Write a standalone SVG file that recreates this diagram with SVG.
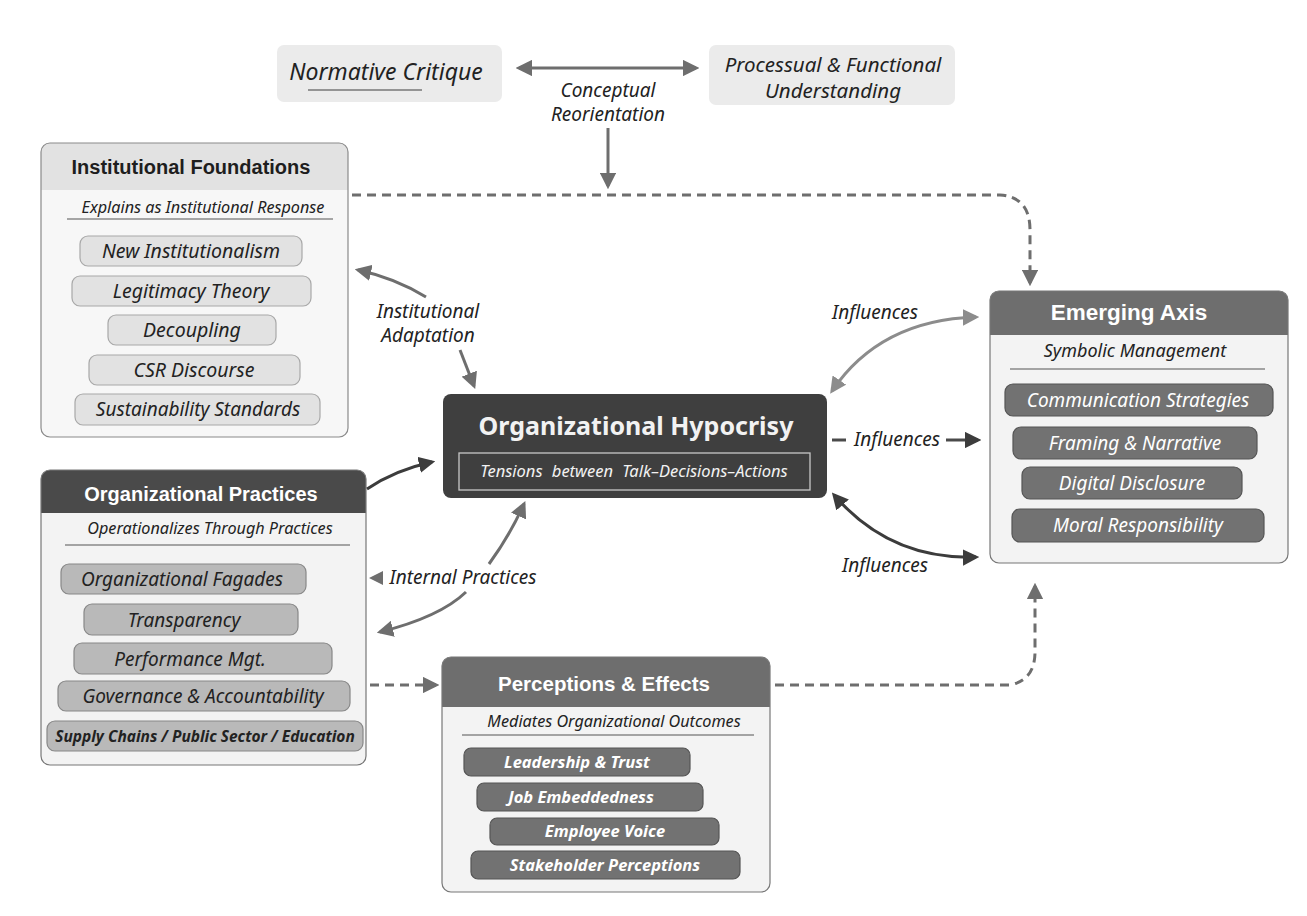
<svg xmlns="http://www.w3.org/2000/svg" width="1307" height="916" viewBox="0 0 1307 916">
<defs>
<style>
.it{font-family:"Noto Sans","Open Sans","Liberation Sans",sans-serif;font-style:italic;text-anchor:middle}
.hd{font-family:"Liberation Sans",Arial,sans-serif;font-weight:bold;text-anchor:middle}
.pl{fill:#e2e2e2;stroke:#a8a8a8;stroke-width:1.2}
.pm{fill:#b9b9b9;stroke:#888;stroke-width:1.2}
.pd{fill:#727272;stroke:#555;stroke-width:1.2}
.ln{stroke:#555;stroke-width:1.2}
.c{fill:none;stroke:#6e6e6e;stroke-width:3}
.cd{fill:none;stroke:#6e6e6e;stroke-width:3;stroke-dasharray:9 6}
</style>
<marker id="a" viewBox="0 0 10 10" refX="8" refY="5" markerWidth="5.5" markerHeight="5.5" orient="auto-start-reverse" markerUnits="strokeWidth"><path d="M0,0 L10,5 L0,10 z" fill="#6e6e6e"/></marker>
<marker id="aL" viewBox="0 0 10 10" refX="8" refY="5" markerWidth="5.5" markerHeight="5.5" orient="auto-start-reverse" markerUnits="strokeWidth"><path d="M0,0 L10,5 L0,10 z" fill="#8c8c8c"/></marker>
<marker id="aD" viewBox="0 0 10 10" refX="8" refY="5" markerWidth="5.5" markerHeight="5.5" orient="auto-start-reverse" markerUnits="strokeWidth"><path d="M0,0 L10,5 L0,10 z" fill="#3c3c3c"/></marker>
</defs>
<rect width="1307" height="916" fill="#ffffff"/>

<g id="normative-critique">
<rect x="277" y="45" width="225" height="57" rx="7" fill="#ebebeb"/>
<text class="it" x="386" y="80" font-size="23" fill="#222">Normative Critique</text>
<line x1="308" y1="90" x2="422" y2="90" stroke="#777" stroke-width="1.3"/>
</g>

<g id="processual-understanding">
<rect x="709" y="45" width="246" height="60" rx="7" fill="#ebebeb"/>
<text class="it" x="833" y="72" font-size="20.5" fill="#222">Processual &amp; Functional</text>
<text class="it" x="833" y="98" font-size="20.5" fill="#222">Understanding</text>
</g>

<g id="institutional-foundations">
<rect x="41" y="143" width="307" height="294" rx="9" fill="#f7f7f7"/>
<path d="M41,190 V152 a9,9 0 0 1 9,-9 H339 a9,9 0 0 1 9,9 V190 z" fill="#e2e2e2"/>
<rect x="41" y="143" width="307" height="294" rx="9" fill="none" stroke="#8a8a8a" stroke-width="1.2"/>
<text class="hd" x="191" y="174" font-size="20" fill="#1e1e1e">Institutional Foundations</text>
<text class="it" x="203" y="213" font-size="16.2" fill="#222">Explains as Institutional Response</text>
<line class="ln" x1="67" y1="219" x2="333" y2="219"/>
<rect class="pl" x="80" y="236" width="222" height="30" rx="8"/>
<text class="it" x="191" y="258" font-size="19.5" fill="#222">New Institutionalism</text>
<rect class="pl" x="72" y="276" width="239" height="30" rx="8"/>
<text class="it" x="191" y="298" font-size="19.5" fill="#222">Legitimacy Theory</text>
<rect class="pl" x="108" y="315" width="168" height="30" rx="8"/>
<text class="it" x="192" y="337" font-size="19.5" fill="#222">Decoupling</text>
<rect class="pl" x="89" y="355" width="211" height="30" rx="8"/>
<text class="it" x="194" y="377" font-size="19.5" fill="#222">CSR Discourse</text>
<rect class="pl" x="75" y="394" width="245" height="31" rx="8"/>
<text class="it" x="198" y="416" font-size="19" fill="#222">Sustainability Standards</text>
</g>

<g id="organizational-practices">
<rect x="41" y="470" width="325" height="295" rx="9" fill="#f3f3f3"/>
<path d="M41,513 V479 a9,9 0 0 1 9,-9 H357 a9,9 0 0 1 9,9 V513 z" fill="#4a4a4a"/>
<rect x="41" y="470" width="325" height="295" rx="9" fill="none" stroke="#777" stroke-width="1.2"/>
<text class="hd" x="201" y="501" font-size="20" fill="#ffffff">Organizational Practices</text>
<text class="it" x="210" y="534" font-size="16.2" fill="#222">Operationalizes Through Practices</text>
<line class="ln" x1="65" y1="545" x2="350" y2="545"/>
<rect class="pm" x="61" y="564" width="245" height="30" rx="8"/>
<text class="it" x="182" y="586" font-size="19" fill="#222">Organizational Fagades</text>
<rect class="pm" x="84" y="604" width="214" height="31" rx="8"/>
<text class="it" x="184" y="627" font-size="19" fill="#222">Transparency</text>
<rect class="pm" x="74" y="643" width="258" height="31" rx="8"/>
<text class="it" x="190" y="666" font-size="19" fill="#222">Performance Mgt.</text>
<rect class="pm" x="58" y="681" width="292" height="30" rx="8"/>
<text class="it" x="203" y="703" font-size="19" fill="#222">Governance &amp; Accountability</text>
<rect class="pm" x="47" y="721" width="316" height="30" rx="8"/>
<text class="it" x="205" y="742" font-size="15.5" fill="#222" font-weight="bold">Supply Chains / Public Sector / Education</text>
</g>

<g id="organizational-hypocrisy">
<rect x="443" y="394" width="384" height="104" rx="8" fill="#3f3f3f"/>
<text x="636" y="435" font-family="'Noto Sans','Open Sans','Liberation Sans',sans-serif" font-weight="bold" font-size="25" fill="#f2f2f2" text-anchor="middle">Organizational Hypocrisy</text>
<rect x="459" y="453" width="351" height="37" fill="none" stroke="#c8c8c8" stroke-width="1.3"/>
<text class="it" x="634" y="477" font-size="16.5" fill="#f2f2f2" word-spacing="5">Tensions between Talk–Decisions–Actions</text>
</g>

<g id="perceptions-effects">
<rect x="442" y="657" width="328" height="235" rx="9" fill="#f3f3f3"/>
<path d="M442,707 V666 a9,9 0 0 1 9,-9 H761 a9,9 0 0 1 9,9 V707 z" fill="#6e6e6e"/>
<rect x="442" y="657" width="328" height="235" rx="9" fill="none" stroke="#777" stroke-width="1.2"/>
<text class="hd" x="604" y="691" font-size="20.5" fill="#ffffff">Perceptions &amp; Effects</text>
<text class="it" x="614" y="727" font-size="16.2" fill="#222">Mediates Organizational Outcomes</text>
<line class="ln" x1="462" y1="735" x2="754" y2="735"/>
<rect class="pd" x="464" y="748" width="226" height="28" rx="7"/>
<text class="it" x="577" y="768" font-size="16.5" fill="#fff" font-weight="bold">Leadership &amp; Trust</text>
<rect class="pd" x="477" y="783" width="226" height="28" rx="7"/>
<text class="it" x="581" y="803" font-size="16.5" fill="#fff" font-weight="bold">Job Embeddedness</text>
<rect class="pd" x="490" y="818" width="229" height="27" rx="7"/>
<text class="it" x="605" y="837" font-size="16.5" fill="#fff" font-weight="bold">Employee Voice</text>
<rect class="pd" x="471" y="851" width="269" height="28" rx="7"/>
<text class="it" x="605" y="871" font-size="16.5" fill="#fff" font-weight="bold">Stakeholder Perceptions</text>
</g>

<g id="emerging-axis">
<rect x="990" y="291" width="298" height="272" rx="9" fill="#f3f3f3"/>
<path d="M990,335 V300 a9,9 0 0 1 9,-9 H1279 a9,9 0 0 1 9,9 V335 z" fill="#6e6e6e"/>
<rect x="990" y="291" width="298" height="272" rx="9" fill="none" stroke="#777" stroke-width="1.2"/>
<text class="hd" x="1129" y="320" font-size="22.5" fill="#ffffff">Emerging Axis</text>
<text class="it" x="1135" y="357" font-size="18" fill="#222">Symbolic Management</text>
<line class="ln" x1="1010" y1="369" x2="1265" y2="369"/>
<rect class="pd" x="1005" y="384" width="268" height="32" rx="8"/>
<text class="it" x="1138" y="407" font-size="19" fill="#fff">Communication Strategies</text>
<rect class="pd" x="1013" y="427" width="244" height="32" rx="8"/>
<text class="it" x="1135" y="450" font-size="19" fill="#fff">Framing &amp; Narrative</text>
<rect class="pd" x="1022" y="467" width="220" height="32" rx="8"/>
<text class="it" x="1132" y="490" font-size="19" fill="#fff">Digital Disclosure</text>
<rect class="pd" x="1012" y="509" width="252" height="33" rx="8"/>
<text class="it" x="1138" y="532" font-size="19" fill="#fff">Moral Responsibility</text>
</g>

<g id="connectors">
<line class="c" x1="519" y1="68" x2="696" y2="68" marker-start="url(#a)" marker-end="url(#a)"/>
<text class="it" x="608" y="97" font-size="19" fill="#222">Conceptual</text>
<text class="it" x="608" y="121" font-size="19" fill="#222">Reorientation</text>
<line class="c" x1="608" y1="128" x2="608" y2="186" marker-end="url(#a)"/>
<path class="cd" d="M352,195 H1000 Q1030,197 1030,230 V283" marker-end="url(#a)"/>

<path class="c" d="M426,297 Q395,278 358,270" marker-end="url(#a)"/>
<text class="it" x="428" y="318" font-size="19" fill="#222">Institutional</text>
<text class="it" x="428" y="342" font-size="19" fill="#222">Adaptation</text>
<line class="c" x1="460" y1="350" x2="474" y2="386" marker-end="url(#a)"/>

<path d="M367,489 Q395,470 432,462" fill="none" stroke="#3c3c3c" stroke-width="3" marker-end="url(#aD)"/>

<polygon points="369,578 383,571 383,585" fill="#6e6e6e"/>
<text class="it" x="463" y="584" font-size="19" fill="#222">Internal Practices</text>
<path class="c" d="M489,564 Q510,535 524,504" marker-end="url(#a)"/>
<path class="c" d="M466,592 Q440,617 380,632" marker-end="url(#a)"/>

<path d="M832,391 Q880,320 976,317" fill="none" stroke="#8c8c8c" stroke-width="3" marker-start="url(#aL)" marker-end="url(#aL)"/>
<text class="it" x="875" y="319" font-size="19" fill="#222">Influences</text>

<line x1="832" y1="440" x2="846" y2="440" stroke="#4a4a4a" stroke-width="3"/>
<text class="it" x="897" y="446" font-size="19" fill="#222">Influences</text>
<line x1="946" y1="440" x2="978" y2="440" stroke="#4a4a4a" stroke-width="3" marker-end="url(#aD)"/>

<path d="M834,495 Q890,560 976,557" fill="none" stroke="#3c3c3c" stroke-width="3" marker-start="url(#aD)" marker-end="url(#aD)"/>
<text class="it" x="885" y="572" font-size="19" fill="#222">Influences</text>

<line class="cd" x1="370" y1="685" x2="436" y2="685" marker-end="url(#a)"/>
<path class="cd" d="M775,685 H1010 Q1035,680 1035,652 V586" marker-end="url(#a)"/>
</g>
</svg>
